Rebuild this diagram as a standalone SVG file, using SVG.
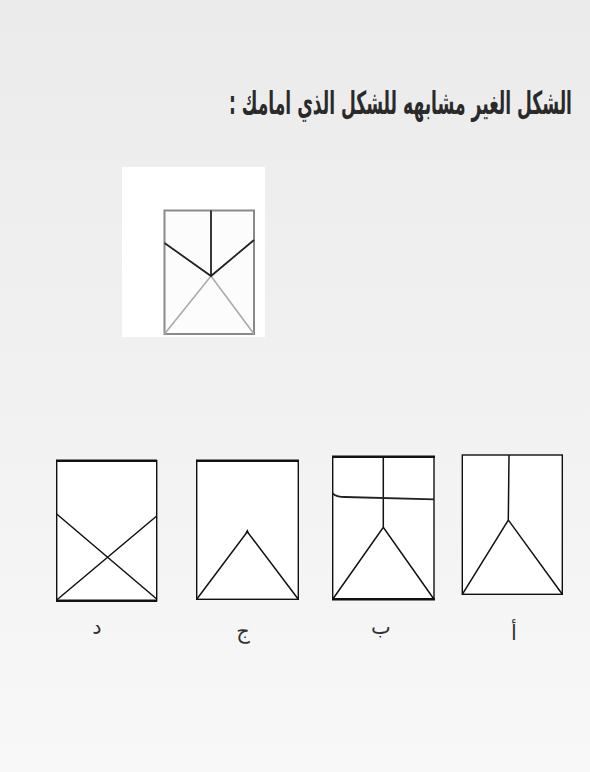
<svg xmlns="http://www.w3.org/2000/svg" width="590" height="772" viewBox="0 0 590 772">
<defs>
<linearGradient id="bg" x1="0" y1="0" x2="0" y2="1">
<stop offset="0" stop-color="#ebebeb"/>
<stop offset="0.5" stop-color="#f1f1f1"/>
<stop offset="1" stop-color="#f8f8f8"/>
</linearGradient>
</defs>
<style>
.box{fill:#fff;stroke:#111;stroke-width:1.4}
.thick{stroke:#111;stroke-width:2.6;fill:none}
.ln{stroke:#111;stroke-width:1.5;fill:none}
.lbl{font-family:"DejaVu Sans","Noto Sans",sans-serif;font-size:21px;fill:#333;text-anchor:middle}
.title{font-family:"DejaVu Sans","Noto Sans",sans-serif;font-size:32px;fill:#2a2a2a;font-weight:bold}
</style>
<rect width="590" height="772" fill="url(#bg)"/>
<g transform="translate(572,114) scale(0.535,1)">
<text class="title" x="0" y="0" direction="rtl" unicode-bidi="embed" text-anchor="start">الشكل الغير مشابهه للشكل الذي امامك :</text>
</g>
<g id="model">
<rect x="122" y="167" width="143" height="170" fill="#fff"/>
<rect x="164.5" y="210.5" width="89.5" height="123.5" fill="#fcfcfc" stroke="#8a8a8a" stroke-width="2"/>
<path d="M164.5 334 L211 276 L254 334" fill="none" stroke="#aaa" stroke-width="1.6"/>
<path d="M211 210.5 V276 M164.5 243 L211 276 L254 240" fill="none" stroke="#222" stroke-width="1.8"/>
</g>
<g id="option-d">
<rect class="box" x="56.7" y="460.7" width="100" height="140"/>
<path class="thick" d="M56 460.7 H157 M56 600.7 H157"/>
<path class="ln" d="M56.7 514 L156.7 599 M56.7 600 L156.7 516"/>
<text class="lbl" x="97" y="634">د</text>
</g>
<g id="option-j">
<rect class="box" x="196.7" y="460.7" width="101.6" height="138.6"/>
<path class="thick" d="M196 460.7 H299"/>
<path class="ln" d="M196.7 599.3 L247.3 531.7 L298.3 599.3"/>
<path d="M245.5 533 L247.3 529 L249 533 Z" fill="#111"/>
<text class="lbl" x="243" y="638">ج</text>
</g>
<g id="option-b">
<rect class="box" x="332.7" y="456.7" width="101.3" height="142.6"/>
<path class="thick" d="M332 456.7 H435 M332 599.3 H435"/>
<path class="ln" d="M383.3 456.7 V527.3 M332.7 599.3 L383.3 527.3 L434 599.3"/>
<path d="M332.7 493.3 Q336 497 345 497 L434 499.3" fill="none" stroke="#222" stroke-width="1.8"/>
<text class="lbl" x="381" y="634">ب</text>
</g>
<g id="option-a">
<rect class="box" x="462.3" y="455" width="100" height="139.3" stroke-width="1.8"/>
<path class="ln" d="M509 455 L508.3 520 M462.3 594.3 L508.3 520 L562.3 594.3"/>
<text class="lbl" x="514" y="640">أ</text>
</g>
<g id="connectors"></g>
</svg>
